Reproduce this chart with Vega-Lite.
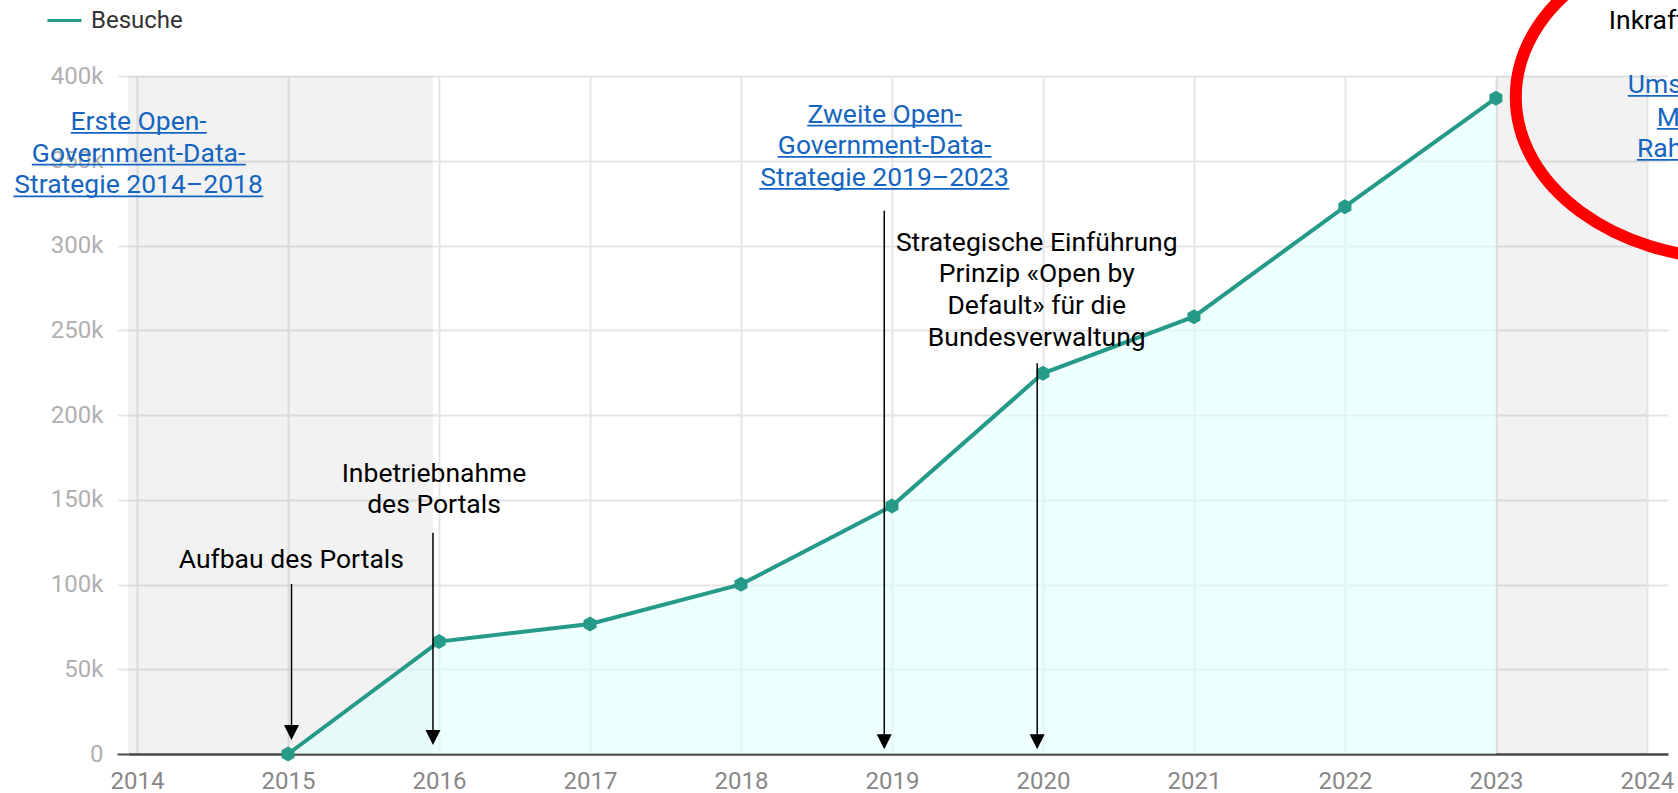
{
  "$schema": "https://vega.github.io/schema/vega-lite/v6.json",
  "width": 1540,
  "height": 678,
  "autosize": {"type": "none"},
  "padding": {"left": 128, "top": 76, "right": 10, "bottom": 39},
  "config": {"font": "Roboto", "view": {"stroke": null}},
  "datasets": {
    "visits": [
      {"year": 2015, "visits": 0},
      {"year": 2016, "visits": 66300},
      {"year": 2017, "visits": 76700},
      {"year": 2018, "visits": 100100},
      {"year": 2019, "visits": 146300},
      {"year": 2020, "visits": 224600},
      {"year": 2021, "visits": 258000},
      {"year": 2022, "visits": 322900},
      {"year": 2023, "visits": 386900}
    ],
    "bands": [
      {"start": 2013.94, "end": 2015.96},
      {"start": 2023, "end": 2024}
    ],
    "arrows": [
      {"x": 2015.023, "from": 100300, "to": 12685},
      {"x": 2015.96, "from": 130567, "to": 9735},
      {"x": 2018.949, "from": 320547, "to": 7260},
      {"x": 2019.962, "from": 230513, "to": 7260}
    ],
    "notes": [
      {"x": 2015.022, "y": 122307, "label": "Aufbau des Portals"},
      {"x": 2015.967, "y": 173047, "label": "Inbetriebnahme\ndes Portals"},
      {"x": 2019.959, "y": 309337, "label": "Strategische Einführung\nPrinzip «Open by\nDefault» für die\nBundesverwaltung"}
    ],
    "links": [
      {"x": 2014.01, "y": 380550, "label": "Erste Open-\nGovernment-Data-\nStrategie 2014–2018"},
      {"x": 2018.951, "y": 384857, "label": "Zweite Open-\nGovernment-Data-\nStrategie 2019–2023"}
    ],
    "rightNotes": [
      {"x": 2023.748, "y": 439963, "label": "Inkrafttreten des EMBAG"}
    ],
    "rightLinks": [
      {"x": 2023.874, "y": 402203, "label": "Umsetzung"},
      {"x": 2024.066, "y": 382910, "label": "Massnahmen"},
      {"x": 2023.934, "y": 364443, "label": "Rahmen"}
    ],
    "underlines": [
      {"x": 2013.561, "x2": 2014.462, "y": 366390},
      {"x": 2013.303, "x2": 2014.72, "y": 347690},
      {"x": 2013.181, "x2": 2014.836, "y": 329040},
      {"x": 2018.439, "x2": 2019.464, "y": 370700},
      {"x": 2018.243, "x2": 2019.66, "y": 352230},
      {"x": 2018.121, "x2": 2019.777, "y": 333350},
      {"x": 2023.874, "x2": 2024.6, "y": 388220},
      {"x": 2024.066, "x2": 2024.6, "y": 368750},
      {"x": 2023.934, "x2": 2024.6, "y": 350460}
    ],
    "ellipse": [
      {"x": 2024.589, "y": 387630}
    ]
  },
  "layer": [
    {
      "data": {"name": "bands"},
      "mark": {"type": "rect", "color": "#000000", "opacity": 0.05},
      "encoding": {
        "x": {
          "field": "start", "type": "quantitative",
          "scale": {"domain": [2013.94, 2024.14], "nice": false, "zero": false},
          "axis": {
            "title": null,
            "values": [2014, 2015, 2016, 2017, 2018, 2019, 2020, 2021, 2022, 2023, 2024],
            "format": "d",
            "labelFont": "Roboto",
            "labelFontSize": 24,
            "labelColor": "#888888",
            "labelPadding": 15,
            "ticks": false,
            "domain": true,
            "domainColor": "#4a4a4a",
            "domainWidth": 2.5,
            "grid": true,
            "gridColor": "#e6e6e6",
            "gridWidth": 2,
            "labelFlush": false,
            "labelOverlap": false
          }
        },
        "x2": {"field": "end"},
        "y": {
          "datum": 400000, "type": "quantitative",
          "scale": {"domain": [0, 400000], "nice": false},
          "axis": {
            "title": null,
            "values": [0, 50000, 100000, 150000, 200000, 250000, 300000, 350000, 400000],
            "labelExpr": "datum.value === 0 ? '0' : (datum.value / 1000) + 'k'",
            "labelFont": "Roboto",
            "labelFontSize": 24,
            "labelColor": "#b0b0b0",
            "labelPadding": 14,
            "tickSize": 11,
            "tickWidth": 2,
            "tickColor": {"condition": {"test": "datum.value === 0", "value": "#4a4a4a"}, "value": "#e6e6e6"},
            "domain": false,
            "grid": true,
            "gridColor": "#e6e6e6",
            "gridWidth": 2,
            "labelFlush": false,
            "labelOverlap": false
          }
        },
        "y2": {"datum": 0}
      }
    },
    {
      "data": {"name": "visits"},
      "mark": {"type": "area", "color": "#e0ffff", "opacity": 0.55},
      "encoding": {
        "x": {"field": "year", "type": "quantitative", "axis": {"title": null}},
        "y": {"field": "visits", "type": "quantitative", "axis": {"title": null}}
      }
    },
    {
      "data": {"name": "visits"},
      "mark": {"type": "line", "strokeWidth": 4},
      "encoding": {
        "x": {"field": "year", "type": "quantitative", "axis": {"title": null}},
        "y": {"field": "visits", "type": "quantitative", "axis": {"title": null}},
        "color": {
          "datum": "Besuche", "type": "nominal",
          "scale": {"range": ["#269a89"]},
          "legend": {
            "title": null,
            "orient": "none",
            "legendX": -82,
            "legendY": -74,
            "padding": 0,
            "symbolType": "stroke",
            "symbolSize": 1156,
            "symbolStrokeWidth": 3,
            "labelFont": "Roboto",
            "labelFontSize": 24,
            "labelColor": "#333333",
            "labelOffset": 8
          }
        }
      }
    },
    {
      "data": {"name": "visits"},
      "mark": {"type": "point", "shape": "M 0 -1 L 0.87 -0.5 L 0.87 0.5 L 0 1 L -0.87 0.5 L -0.87 -0.5 Z", "filled": true, "color": "#269a89", "opacity": 1, "size": 225},
      "encoding": {
        "x": {"field": "year", "type": "quantitative", "axis": {"title": null}},
        "y": {"field": "visits", "type": "quantitative", "axis": {"title": null}}
      }
    },
    {
      "data": {"name": "arrows"},
      "mark": {"type": "rule", "color": "#000000", "strokeWidth": 1.5},
      "encoding": {
        "x": {"field": "x", "type": "quantitative", "axis": {"title": null}},
        "y": {"field": "from", "type": "quantitative", "axis": {"title": null}},
        "y2": {"field": "to"}
      }
    },
    {
      "data": {"name": "arrows"},
      "mark": {"type": "point", "shape": "M -1 -1 L 1 -1 L 0 1 Z", "filled": true, "color": "#000000", "opacity": 1, "size": 225},
      "encoding": {
        "x": {"field": "x", "type": "quantitative", "axis": {"title": null}},
        "y": {"field": "to", "type": "quantitative", "axis": {"title": null}}
      }
    },
    {
      "data": {"name": "notes"},
      "mark": {"type": "text", "align": "center", "baseline": "top", "font": "Roboto", "fontSize": 26.5, "lineHeight": 31.7, "lineBreak": "\n", "color": "#000000"},
      "encoding": {
        "x": {"field": "x", "type": "quantitative", "axis": {"title": null}},
        "y": {"field": "y", "type": "quantitative", "axis": {"title": null}},
        "text": {"field": "label"}
      }
    },
    {
      "data": {"name": "links"},
      "mark": {"type": "text", "align": "center", "baseline": "top", "font": "Roboto", "fontSize": 26.5, "lineHeight": 31.7, "lineBreak": "\n", "color": "#1565c0"},
      "encoding": {
        "x": {"field": "x", "type": "quantitative", "axis": {"title": null}},
        "y": {"field": "y", "type": "quantitative", "axis": {"title": null}},
        "text": {"field": "label"}
      }
    },
    {
      "data": {"name": "rightNotes"},
      "mark": {"type": "text", "align": "left", "baseline": "top", "font": "Roboto", "fontSize": 26.5, "color": "#000000"},
      "encoding": {
        "x": {"field": "x", "type": "quantitative", "axis": {"title": null}},
        "y": {"field": "y", "type": "quantitative", "axis": {"title": null}},
        "text": {"field": "label"}
      }
    },
    {
      "data": {"name": "rightLinks"},
      "mark": {"type": "text", "align": "left", "baseline": "top", "font": "Roboto", "fontSize": 26.5, "color": "#1565c0"},
      "encoding": {
        "x": {"field": "x", "type": "quantitative", "axis": {"title": null}},
        "y": {"field": "y", "type": "quantitative", "axis": {"title": null}},
        "text": {"field": "label"}
      }
    },
    {
      "data": {"name": "underlines"},
      "mark": {"type": "rule", "color": "#1565c0", "strokeWidth": 1.8},
      "encoding": {
        "x": {"field": "x", "type": "quantitative", "axis": {"title": null}},
        "x2": {"field": "x2"},
        "y": {"field": "y", "type": "quantitative", "axis": {"title": null}}
      }
    },
    {
      "data": {"name": "ellipse"},
      "mark": {"type": "point", "shape": "M -1 0 A 1 0.736 0 1 1 1 0 A 1 0.736 0 1 1 -1 0 Z", "filled": false, "stroke": "#ff0000", "strokeWidth": 12, "opacity": 1, "size": 193600},
      "encoding": {
        "x": {"field": "x", "type": "quantitative", "axis": {"title": null}},
        "y": {"field": "y", "type": "quantitative", "axis": {"title": null}}
      }
    }
  ]
}
